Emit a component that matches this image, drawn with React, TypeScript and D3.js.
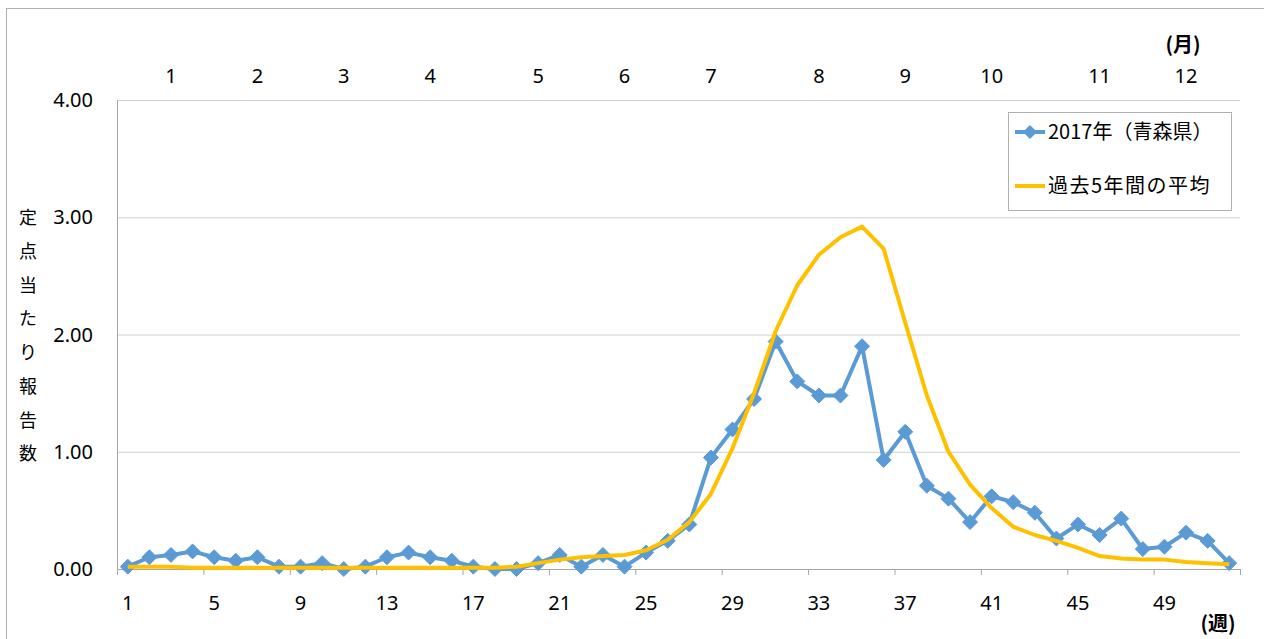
import React from "react";
import * as d3 from "d3";

const weeks: number[] = Array.from({ length: 52 }, (_, i) => i + 1);

const series2017: number[] = [
  0.02, 0.10, 0.12, 0.15, 0.10, 0.07, 0.10, 0.02, 0.02, 0.05,
  0.00, 0.02, 0.10, 0.14, 0.10, 0.07, 0.02, 0.00, 0.00, 0.05,
  0.12, 0.02, 0.12, 0.02, 0.14, 0.24, 0.38, 0.95, 1.19, 1.45,
  1.94, 1.60, 1.48, 1.48, 1.90, 0.93, 1.17, 0.71, 0.60, 0.40,
  0.62, 0.57, 0.48, 0.26, 0.38, 0.29, 0.43, 0.17, 0.19, 0.31,
  0.24, 0.05,
];

const seriesAvg: number[] = [
  0.02, 0.02, 0.02, 0.01, 0.01, 0.01, 0.01, 0.01, 0.01, 0.01,
  0.01, 0.01, 0.01, 0.01, 0.01, 0.01, 0.01, 0.01, 0.02, 0.05,
  0.08, 0.10, 0.11, 0.12, 0.16, 0.25, 0.40, 0.64, 1.03, 1.50,
  2.03, 2.42, 2.68, 2.83, 2.92, 2.73, 2.10, 1.48, 1.00, 0.72,
  0.52, 0.36, 0.29, 0.24, 0.18, 0.11, 0.09, 0.08, 0.08, 0.06,
  0.05, 0.04,
];

const yTicks: number[] = [0, 1, 2, 3, 4];
const weekLabels: number[] = [1, 5, 9, 13, 17, 21, 25, 29, 33, 37, 41, 45, 49];
const monthWeeks: number[] = [3, 7, 11, 15, 20, 24, 28, 33, 37, 41, 46, 50];
const monthLabels: string[] = ["1", "2", "3", "4", "5", "6", "7", "8", "9", "10", "11", "12"];
const yTitle: string[] = ["定", "点", "当", "た", "り", "報", "告", "数"];
const legendLabels: string[] = ["2017年（青森県）", "過去5年間の平均"];

const BLUE = "#5b9bd5";
const GOLD = "#ffc000";
const FONT = "'Noto Sans', 'Noto Sans CJK JP', sans-serif";
const JFONT = "'Noto Sans CJK JP', 'Noto Sans', sans-serif";

export default function App() {
  const left = 117, right = 1240, top = 100, bottom = 569;
  const x = d3.scaleBand<number>().domain(weeks).range([left, right]).padding(0);
  const bw = x.bandwidth();
  const cx = (w: number) => (x(w) as number) + bw / 2;
  const y = d3.scaleLinear().domain([0, 4]).range([bottom, top]);

  const line = d3
    .line<number>()
    .x((_, i) => cx(weeks[i]))
    .y((d) => y(d));

  const diamond = (px: number, py: number, r: number) =>
    `M${px},${py - r}L${px + r},${py}L${px},${py + r}L${px - r},${py}Z`;

  const tickBounds = d3.range(0, 53, 4).map((k) => left + k * bw);

  return (
    <svg
      width={1264}
      height={639}
      style={{ position: "absolute", left: 0, top: 0, background: "#fff" }}
    >
      <rect x={6.5} y={8.5} width={1400} height={800} fill="#fff" stroke="#b0b0b0" strokeWidth={1} />

      {/* gridlines */}
      {yTicks.filter((t) => t > 0).map((t) => (
        <line key={t} x1={left} x2={right} y1={y(t) + 0.5} y2={y(t) + 0.5} stroke="#d0d0d0" strokeWidth={1} />
      ))}
      {/* axes */}
      <line x1={left + 0.5} x2={left + 0.5} y1={top} y2={bottom} stroke="#a6a6a6" strokeWidth={1} />
      <line x1={left} x2={right} y1={bottom + 0.5} y2={bottom + 0.5} stroke="#a6a6a6" strokeWidth={1} />
      {tickBounds.map((tx, i) => (
        <line key={i} x1={tx + 0.5} x2={tx + 0.5} y1={bottom} y2={bottom + 6} stroke="#a6a6a6" strokeWidth={1} />
      ))}

      {/* y tick labels */}
      {yTicks.map((t) => (
        <text key={t} x={93} y={y(t)} dy="0.35em" textAnchor="end" fontFamily={FONT} fontSize={20} fill="#000">
          {d3.format(".2f")(t)}
        </text>
      ))}

      {/* x tick labels */}
      {weekLabels.map((w) => (
        <text key={w} x={cx(w)} y={603} dy="0.35em" textAnchor="middle" fontFamily={FONT} fontSize={20} fill="#000">
          {w}
        </text>
      ))}
      <text x={1218} y={624} dy="0.35em" textAnchor="middle" fontFamily={JFONT} fontSize={20} fontWeight="bold" fill="#000">
        (週)
      </text>

      {/* month labels */}
      {monthWeeks.map((w, i) => (
        <text key={i} x={cx(w)} y={76} dy="0.35em" textAnchor="middle" fontFamily={FONT} fontSize={20} fill="#000">
          {monthLabels[i]}
        </text>
      ))}
      <text x={1183} y={45} dy="0.35em" textAnchor="middle" fontFamily={JFONT} fontSize={20} fontWeight="bold" fill="#000">
        (月)
      </text>

      {/* y title */}
      {yTitle.map((c, i) => (
        <text key={i} x={28} y={218 + i * 33.7} dy="0.35em" textAnchor="middle" fontFamily={JFONT} fontSize={18} fill="#000">
          {c}
        </text>
      ))}

      {/* series 2017 */}
      <path d={line(series2017) || ""} fill="none" stroke={BLUE} strokeWidth={4} strokeLinejoin="round" />
      {series2017.map((v, i) => (
        <path key={i} d={diamond(cx(weeks[i]), y(v), 7.5)} fill={BLUE} stroke={BLUE} strokeWidth={1} />
      ))}

      {/* average */}
      <path d={line(seriesAvg) || ""} fill="none" stroke={GOLD} strokeWidth={4} strokeLinejoin="round" />

      {/* legend */}
      <rect x={1008.5} y={112.5} width={223} height={98} fill="#fff" stroke="#b0b0b0" strokeWidth={1} />
      <line x1={1015} x2={1045} y1={132} y2={132} stroke={BLUE} strokeWidth={4} />
      <path d={diamond(1030, 132, 7)} fill={BLUE} />
      <text x={1048} y={132} dy="0.35em" fontFamily={JFONT} fontSize={20} fill="#000">
        {legendLabels[0]}
      </text>
      <line x1={1015} x2={1045} y1={186} y2={186} stroke={GOLD} strokeWidth={4} />
      <text x={1048} y={186} dy="0.35em" fontFamily={JFONT} fontSize={20} letterSpacing={1.5} fill="#000">
        {legendLabels[1]}
      </text>
    </svg>
  );
}
